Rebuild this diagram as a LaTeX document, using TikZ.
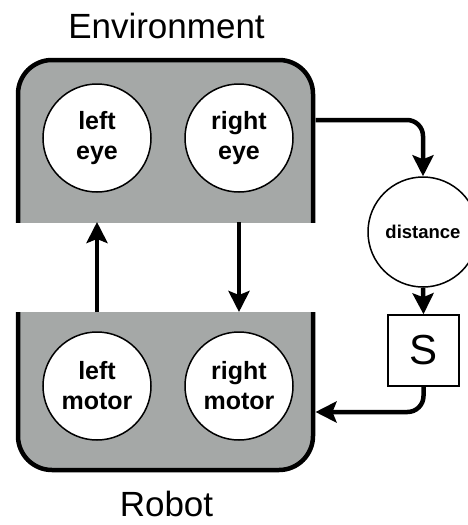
\documentclass[tikz,border=0pt]{standalone}
\usepackage{fontspec}
\setmainfont{Liberation Sans}
\usetikzlibrary{arrows.meta}
\definecolor{boxgray}{RGB}{165,168,167}
\begin{document}
\begin{tikzpicture}[x=1pt,y=-1pt,
  boxline/.style={line width=4.5pt, draw=black, fill=boxgray},
  unit/.style={circle, draw=black, line width=1.5pt, fill=white, minimum size=108pt, inner sep=0pt, align=center, font=\fontsize{25}{30}\selectfont\bfseries},
  flow/.style={line width=4.5pt, -{Stealth[length=21pt,width=21pt,inset=4pt]}, rounded corners=16pt},
  title/.style={font=\fontsize{35}{40}\selectfont, anchor=base}
]
\useasboundingbox (0,0) rectangle (468,525);
\clip (0,0) rectangle (468,525);
% environment box (open at the bottom)
\begin{scope}
  \clip (0,0) rectangle (468,222);
  \draw[boxline, rounded corners=34pt] (18,60) rectangle (313,300);
\end{scope}
% robot box (open at the top)
\begin{scope}
  \clip (0,312) rectangle (468,525);
  \draw[boxline, rounded corners=34pt] (18,240) rectangle (313,470);
\end{scope}
\node[title] (envlabel) at (166.5,38) {Environment};
\node[title] (roblabel) at (166.5,516) {Robot};
\node[unit] (leye) at (97,138) {left\\eye};
\node[unit] (reye) at (239,138) {right\\eye};
\node[unit] (lmot) at (97,386) {left\\motor};
\node[unit] (rmot) at (239,386) {right\\motor};
\node[unit, minimum size=110pt, font=\fontsize{18.5}{22}\selectfont\bfseries] (dist) at (423,232) {distance};
\node[draw=black, line width=1.5pt, fill=white, minimum size=71pt, inner sep=0pt, font=\fontsize{42}{44}\selectfont] (sbox) at (423.5,350.5) {S};
\coordinate (envBL) at (97,222);
\coordinate (robTL) at (97,312);
\coordinate (envBR) at (239,222);
\coordinate (robTR) at (239,312);
\coordinate (envOut) at (315.5,120);
\coordinate (robIn) at (315.5,412);
\draw[flow] (robTL) -- (envBL);
\draw[flow] (envBR) -- (robTR);
\draw[flow] (envOut) -| (dist.north);
\draw[flow] (dist.south) -- (sbox.north);
\draw[flow] (sbox.south) |- (robIn);
\end{tikzpicture}
\end{document}
